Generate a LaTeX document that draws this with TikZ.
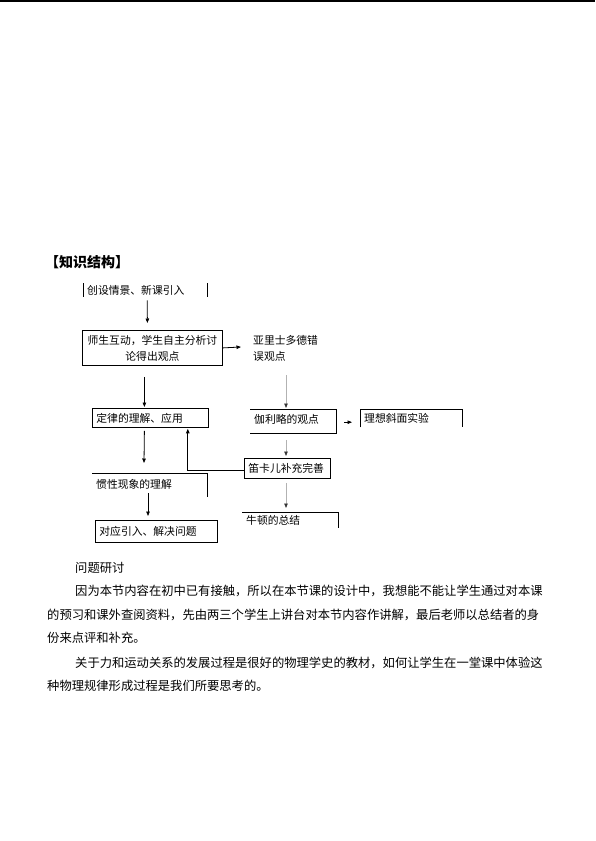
\documentclass[tikz,border=0pt]{standalone}
\usepackage{fontspec}
\newfontfamily\cjk{Noto Sans CJK SC}
\usetikzlibrary{arrows.meta,calc}
\begin{document}
\begin{tikzpicture}[x=1pt,y=-1pt,
  every node/.style={font=\cjk\fontsize{10.8}{16}\selectfont},
  bx/.style n args={2}{anchor=north west,inner xsep=4pt,inner ysep=0pt,
     minimum width=#1,minimum height=#2,text width=#1-8pt,align=left},
  line/.style={line width=0.8pt,black},
  arr/.style={line width=0.8pt,-{Triangle[length=4.5pt,width=3.5pt]}},
  garr/.style={line width=0.8pt,gray!60,-{Triangle[length=4.5pt,width=3.5pt,color=black!80]}},
  body/.style={anchor=west,inner sep=0pt,font=\cjk\fontsize{12.3}{14}\selectfont}
]
\useasboundingbox (0,0) rectangle (595,841);
\draw[line width=1.2pt] (0,1) -- (595,1);
\node[anchor=west,inner sep=0pt,font=\cjk\bfseries\fontsize{14}{16}\selectfont] (title) at (45,262) {【知识结构】};

% nodes
\node[bx={124pt}{14pt}] (n1) at (83,283) {创设情景、新课引入};
\node[anchor=north west,inner sep=0pt,minimum width=140pt,minimum height=35pt,align=center,draw,line width=0.8pt] (n2) at (82,330) {师生互动，学生自主分析讨\\论得出观点};
\node[anchor=west,inner sep=0pt,align=left] (n3) at (253,348) {亚里士多德错\\误观点};
\node[bx={86pt}{24pt}] (n4) at (250,409) {\raisebox{4pt}{伽利略的观点}};
\node[bx={102pt}{18pt}] (n5) at (360,409) {理想斜面实验};
\node[bx={116pt}{19pt},draw,line width=0.8pt] (n6) at (92,408) {定律的理解、应用};
\node[bx={86pt}{20pt},draw,line width=0.8pt] (n7) at (244,458) {\raisebox{1pt}{笛卡儿补充完善}};
\node[bx={96pt}{16pt}] (n8) at (242,512) {\raisebox{1pt}{牛顿的总结}};
\node[bx={115pt}{24pt}] (n9) at (92,473) {\raisebox{2pt}{惯性现象的理解}};
\node[bx={122pt}{22pt},draw,line width=0.8pt] (n10) at (95,520) {对应引入、解决问题};

% partial borders
\draw[line] (n1.north west) -- (n1.south west);
\draw[line] (n1.north east) -- (n1.south east);
\draw[line] (n4.north west) -- (n4.north east) -- (n4.south east) -- (n4.south west);
\draw[line] (n5.south west) -- (n5.north west) -- (n5.north east) -- (n5.south east);
\draw[line] (n8.north west) -- (n8.north east) -- (n8.south east);
\draw[line] (n9.north west) -- (n9.north east) -- (n9.south east);

% connectors
\draw[arr] ($(n1.south)+(2,3)$) -- ($(n2.north)+(-5,-7)$);
\draw[arr] (n2.east) -- ($(n3.west)+(-12,-1)$);
\draw[arr] ($(n2.south)+(-8,11)$) -- ($(n6.north)+(-6,-1)$);
\draw[garr] ($(n3.south west)+(33,14)$) -- ($(n4.north west)+(36,-1)$);
\draw[arr] ($(n4.east)+(8,1)$) -- ($(n5.west)+(-8,4)$);
\draw[garr] ($(n4.south west)+(36,7)$) -- ($(n7.north west)+(42,-2)$);
\draw[garr] ($(n7.south west)+(42,4)$) -- ($(n8.north west)+(44,-4)$);
\draw[arr] ($(n7.west)+(0,2)$) -| ($(n6.south east)+(-21,1)$);
\draw[arr] ($(n6.south)+(-6,3)$) -- ($(n9.north west)+(52,-10)$);
\draw[arr] ($(n9.north west)+(56,20)$) -- ($(n10.north west)+(53,-4)$);

% body text
\node[body] (t0) at (75,568) {问题研讨};
\node[body] (t1) at (75,591) {因为本节内容在初中已有接触，所以在本节课的设计中，我想能不能让学生通过对本课};
\node[body] (t2) at (47,615) {的预习和课外查阅资料，先由两三个学生上讲台对本节内容作讲解，最后老师以总结者的身};
\node[body] (t3) at (47,638) {份来点评和补充。};
\node[body] (t4) at (75,663) {关于力和运动关系的发展过程是很好的物理学史的教材，如何让学生在一堂课中体验这};
\node[body] (t5) at (47,686) {种物理规律形成过程是我们所要思考的。};
\end{tikzpicture}
\end{document}
